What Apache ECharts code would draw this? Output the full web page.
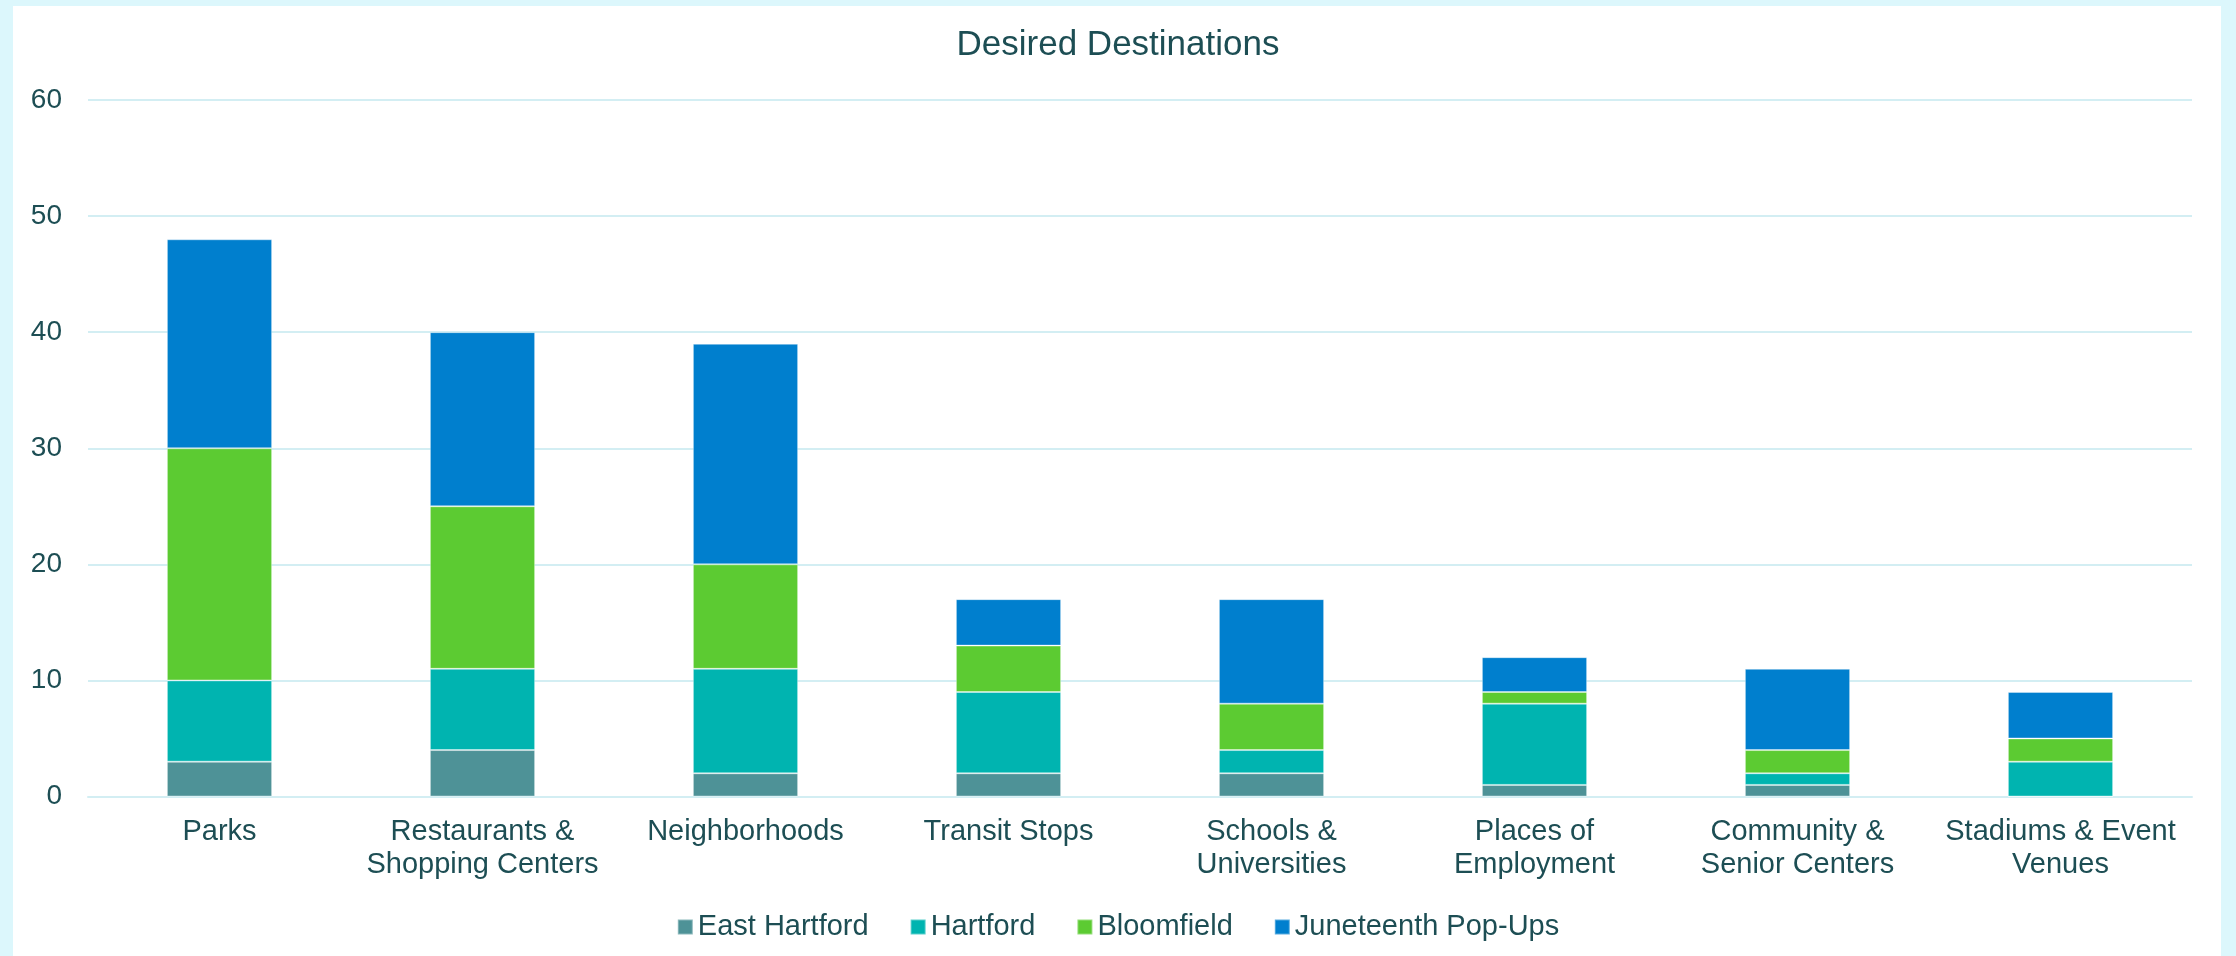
<!DOCTYPE html>
<html>
<head>
<meta charset="utf-8">
<title>Desired Destinations</title>
<script src="https://cdn.jsdelivr.net/npm/echarts@6/dist/echarts.min.js"></script>
<style>
  html, body { margin: 0; padding: 0; background: #dcf7fc; }
  #chart { width: 2236px; height: 956px; }
</style>
</head>
<body>
<div id="chart"></div>
<script>
// Destinations people said they want to reach, stacked by outreach source
const categories = [
  'Parks',
  'Restaurants &\nShopping Centers',
  'Neighborhoods',
  'Transit Stops',
  'Schools &\nUniversities',
  'Places of\nEmployment',
  'Community &\nSenior Centers',
  'Stadiums & Event\nVenues'
];
const eastHartford = [3, 4, 2, 2, 2, 1, 1, 0];
const hartford     = [7, 7, 9, 7, 2, 7, 1, 3];
const bloomfield   = [20, 14, 9, 4, 4, 1, 2, 2];
const juneteenth   = [18, 15, 19, 4, 9, 3, 7, 4];
const yTicks = [0, 10, 20, 30, 40, 50, 60];

const textColor = '#1d4e54';
const font = '"Liberation Sans", Arial, sans-serif';

function stackSeries(name, data, color) {
  return {
    name: name,
    type: 'bar',
    stack: 'total',
    data: data,
    barCategoryGap: '60%',
    itemStyle: { color: color, borderColor: 'rgba(255,255,255,0.35)', borderWidth: 1 },
    emphasis: { disabled: true }
  };
}

const chart = echarts.init(document.getElementById('chart'), null, { renderer: 'canvas' });
chart.setOption({
  backgroundColor: '#dcf7fc',
  animation: false,
  graphic: [{
    type: 'rect',
    z: -10,
    shape: { x: 13, y: 6, width: 2208, height: 950 },
    style: { fill: '#ffffff' }
  }],
  title: {
    text: 'Desired Destinations',
    left: 'center',
    top: 28,
    padding: 0,
    textStyle: { color: textColor, fontFamily: font, fontSize: 35, fontWeight: 'normal' }
  },
  legend: {
    left: 'center',
    top: 907,
    itemWidth: 15,
    itemHeight: 15,
    itemGap: 41,
    icon: 'rect',
    textStyle: { color: textColor, fontFamily: font, fontSize: 29, lineHeight: 30 },
    data: ['East Hartford', 'Hartford', 'Bloomfield', 'Juneteenth Pop-Ups']
  },
  grid: { left: 88, right: 44, top: 100, bottom: 159.5, containLabel: false },
  xAxis: {
    type: 'category',
    data: categories,
    axisLine: { show: true, lineStyle: { color: '#d3eef3', width: 2 } },
    axisTick: { show: false },
    axisLabel: {
      color: textColor, fontFamily: font, fontSize: 29, lineHeight: 33,
      margin: 19, interval: 0
    }
  },
  yAxis: {
    type: 'value',
    min: yTicks[0],
    max: yTicks[yTicks.length - 1],
    interval: yTicks[1] - yTicks[0],
    axisLine: { show: false },
    axisTick: { show: false },
    splitLine: { lineStyle: { color: '#d3eef3', width: 2 } },
    axisLabel: { color: textColor, fontFamily: font, fontSize: 28, margin: 26 }
  },
  series: [
    stackSeries('East Hartford', eastHartford, '#4e9297'),
    stackSeries('Hartford', hartford, '#00b4b0'),
    stackSeries('Bloomfield', bloomfield, '#5ccb32'),
    stackSeries('Juneteenth Pop-Ups', juneteenth, '#007fce')
  ]
});
</script>
</body>
</html>
